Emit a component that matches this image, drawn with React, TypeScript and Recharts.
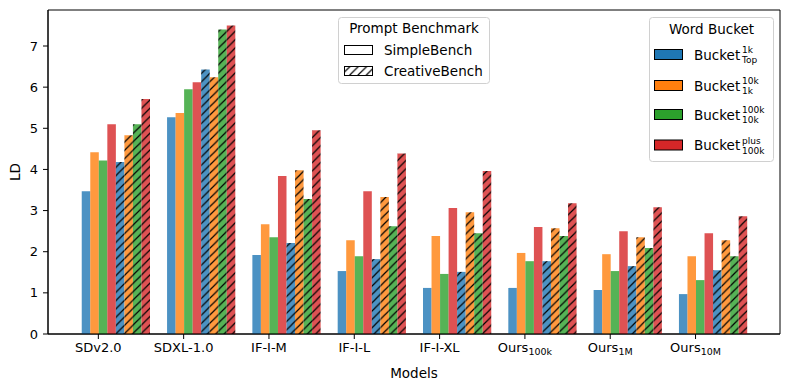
import React from 'react'
import { BarChart, Bar, XAxis, YAxis, ReferenceArea } from 'recharts'

// models on the x axis (name + optional subscript)
const MODELS = ['SDv2.0', 'SDXL-1.0', 'IF-I-M', 'IF-I-L', 'IF-I-XL', 'Ours', 'Ours', 'Ours']
const MODEL_SUBS = ['', '', '', '', '', '100k', '1M', '10M']

// word buckets: super / sub scripts for legend
const BUCKET_SUP = ['1k', '10k', '100k', 'plus']
const BUCKET_SUB = ['Top', '1k', '10k', '100k']
const BUCKET_COLORS = ['#1f77b4', '#ff7f0e', '#2ca02c', '#d62728']

// SimpleBench values per bucket
const simpleTop = [3.47, 5.27, 1.92, 1.53, 1.12, 1.12, 1.07, 0.97]
const simple1k = [4.42, 5.37, 2.67, 2.28, 2.38, 1.97, 1.94, 1.89]
const simple10k = [4.22, 5.95, 2.35, 1.89, 1.46, 1.77, 1.53, 1.31]
const simple100k = [5.1, 6.12, 3.84, 3.47, 3.06, 2.6, 2.5, 2.45]

// CreativeBench values per bucket
const creativeTop = [4.18, 6.43, 2.21, 1.82, 1.51, 1.77, 1.65, 1.55]
const creative1k = [4.83, 6.24, 3.98, 3.33, 2.96, 2.57, 2.35, 2.28]
const creative10k = [5.1, 7.4, 3.28, 2.62, 2.45, 2.38, 2.09, 1.89]
const creative100k = [5.71, 7.5, 4.95, 4.39, 3.96, 3.18, 3.08, 2.86]

const Y_TICKS = [0, 1, 2, 3, 4, 5, 6, 7]

const SIMPLE = [simpleTop, simple1k, simple10k, simple100k]
const CREATIVE = [creativeTop, creative1k, creative10k, creative100k]

// matplotlib style layout: bar width 0.1, 8 bars per group starting at x - 0.2
const BAR_W = 0.1
const GROUP_SHIFT = 0.2
const X_DOMAIN: [number, number] = [-0.59, 7.99]
const Y_DOMAIN: [number, number] = [0, 7.875]

const W = 790
const H = 390
const PLOT_LEFT = 48
const PLOT_RIGHT = 10
const PLOT_W = W - PLOT_LEFT - PLOT_RIGHT
const BAR_PX = (BAR_W * PLOT_W) / (X_DOMAIN[1] - X_DOMAIN[0])

const FONT = 'DejaVu Sans, sans-serif'

const data = MODELS.map((_, i) => ({
  x: i + GROUP_SHIFT,
  s0: simpleTop[i],
  s1: simple1k[i],
  s2: simple10k[i],
  s3: simple100k[i],
  c0: creativeTop[i],
  c1: creative1k[i],
  c2: creative10k[i],
  c3: creative100k[i],
}))

const HATCH = 8.33

function HatchDefs({ prefix }: { prefix: string }) {
  const fills = [...BUCKET_COLORS, '#ffffff']
  return (
    <defs>
      {fills.map((c, k) => (
        <pattern
          key={k}
          id={`${prefix}${k}`}
          patternUnits="userSpaceOnUse"
          width={HATCH}
          height={HATCH}
        >
          <rect width={HATCH} height={HATCH} fill={c} fillOpacity={k < 4 ? 0.8 : 1} />
          <path
            d={`M0,${HATCH} L${HATCH},0 M${-HATCH / 2},${HATCH / 2} L${HATCH / 2},${-HATCH / 2} M${HATCH / 2},${HATCH * 1.5} L${HATCH * 1.5},${HATCH / 2}`}
            stroke="#000"
            strokeWidth={1.2}
          />
        </pattern>
      ))}
    </defs>
  )
}

function ModelTick(props: any) {
  const { x, y, payload } = props
  const i = payload.value
  return (
    <text x={x} y={y + 11} textAnchor="middle" fontSize={13} fill="#000" fontFamily={FONT}>
      {MODELS[i]}
      {MODEL_SUBS[i] && (
        <tspan fontSize={9.5} dy={3}>
          {MODEL_SUBS[i]}
        </tspan>
      )}
    </text>
  )
}

function YLabel(props: any) {
  const { viewBox } = props
  const cx = 15
  const cy = viewBox.y + viewBox.height / 2
  return (
    <text
      x={cx}
      y={cy}
      transform={`rotate(-90, ${cx}, ${cy})`}
      textAnchor="middle"
      dominantBaseline="central"
      fontSize={13.5}
      fontFamily={FONT}
      fill="#000"
    >
      LD
    </text>
  )
}

function Legends() {
  const rowsY = [54.5, 85.5, 114.5, 145]
  return (
    <svg
      width={W}
      height={H}
      style={{ position: 'absolute', left: 0, top: 0, pointerEvents: 'none' }}
      fontFamily={FONT}
    >
      <HatchDefs prefix="lg-hatch-" />
      {/* Prompt Benchmark legend */}
      <rect x={338.5} y={17.5} width={151} height={66} rx={3} fill="#fff" fillOpacity={0.8} stroke="#d0d0d0" />
      <text x={414} y={33} textAnchor="middle" fontSize={13.5}>
        Prompt Benchmark
      </text>
      <rect x={344.5} y={45.5} width={28} height={9} fill="#fff" stroke="#000" />
      <text x={384} y={54.5} fontSize={13.5}>
        SimpleBench
      </text>
      <rect x={344.5} y={66.5} width={28} height={9} fill="url(#lg-hatch-4)" stroke="#000" />
      <text x={384} y={75.5} fontSize={13.5}>
        CreativeBench
      </text>

      {/* Word Bucket legend */}
      <rect x={649.5} y={17.5} width={124} height={144} rx={3} fill="#fff" fillOpacity={0.8} stroke="#d0d0d0" />
      <text x={711.5} y={34} textAnchor="middle" fontSize={13.5}>
        Word Bucket
      </text>
      {BUCKET_COLORS.map((c, k) => {
        const cy = rowsY[k]
        return (
          <g key={k}>
            <rect x={654.5} y={cy - 5} width={28} height={10} fill={c} stroke="#000" />
            <text x={694} y={cy + 5} fontSize={13.5}>
              Bucket
            </text>
            <text x={742} y={cy - 1.5} fontSize={9}>
              {BUCKET_SUP[k]}
            </text>
            <text x={742} y={cy + 8.5} fontSize={9}>
              {BUCKET_SUB[k]}
            </text>
          </g>
        )
      })}
    </svg>
  )
}

export default function App() {
  return (
    <div style={{ position: 'absolute', left: 0, top: 0, width: W, height: H, background: '#fff', fontFamily: FONT }}>
      <BarChart
        width={W}
        height={H}
        data={data}
        margin={{ top: 10, right: PLOT_RIGHT, bottom: 0, left: 0 }}
        barGap={0}
        barCategoryGap={0}
      >
        <HatchDefs prefix="hatch-" />
        <XAxis
          dataKey="x"
          type="number"
          domain={X_DOMAIN}
          ticks={[0, 1, 2, 3, 4, 5, 6, 7]}
          allowDataOverflow
          height={56}
          tickSize={5}
          tickMargin={2}
          tick={<ModelTick />}
          stroke="#000"
          tickLine={{ stroke: '#000' }}
          label={{ value: 'Models', position: 'insideBottom', offset: 12, fontSize: 13.5, fill: '#000' }}
        />
        <YAxis
          domain={Y_DOMAIN}
          ticks={Y_TICKS}
          allowDataOverflow
          width={PLOT_LEFT}
          tickSize={5}
          tickMargin={5}
          stroke="#000"
          tick={{ fill: '#000', fontSize: 13 }}
          label={<YLabel />}
        />
        {SIMPLE.map((_, k) => (
          <Bar
            key={`s${k}`}
            dataKey={`s${k}`}
            barSize={BAR_PX}
            fill={BUCKET_COLORS[k]}
            fillOpacity={0.8}
            isAnimationActive={false}
          />
        ))}
        {CREATIVE.map((_, k) => (
          <Bar
            key={`c${k}`}
            dataKey={`c${k}`}
            barSize={BAR_PX}
            fill={`url(#hatch-${k})`}
            isAnimationActive={false}
          />
        ))}
        <ReferenceArea
          x1={X_DOMAIN[0]}
          x2={X_DOMAIN[1]}
          y1={Y_DOMAIN[0]}
          y2={Y_DOMAIN[1]}
          fill="none"
          stroke="#000"
          strokeWidth={1}
          ifOverflow="visible"
        />
      </BarChart>
      <Legends />
    </div>
  )
}
